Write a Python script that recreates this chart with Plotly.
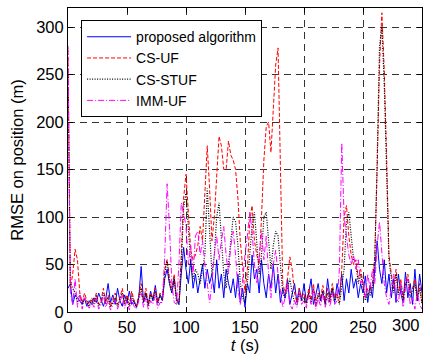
import plotly.graph_objects as go

t = list(range(0, 301, 2))

proposed = [25, 30, 8, 18, 15, 12, 8, 14, 6, 12,
            8, 15, 10, 20, 12, 6, 14, 30, 10, 18,
            8, 25, 12, 6, 18, 10, 22, 8, 12, 5,
            15, 48, 10, 20, 8, 22, 12, 28, 10, 18,
            12, 35, 45, 30, 20, 35, 15, 8, 40, 68,
            45, 30, 55, 25, 40, 20, 35, 50, 25, 45,
            30, 40, 20, 55, 25, 40, 15, 45, 30, 20,
            35, 15, 40, 10, 25, 5, 30, 20, 60, 35,
            45, 20, 55, 30, 15, 40, 25, 50, 20, 40,
            10, 25, 15, 35, 8, 20, 30, 10, 25, 12,
            30, 10, 20, 35, 8, 18, 30, 12, 22, 8,
            35, 15, 25, 10, 30, 18, 40, 12, 35, 20,
            45, 25, 35, 15, 30, 20, 38, 10, 28, 15,
            50, 75, 45, 30, 55, 20, 40, 15, 35, 10,
            40, 20, 10, 42, 15, 30, 8, 45, 12, 40,
            20]

cs_uf = [275, 25, 40, 66, 55, 20, 10, 20, 12, 8,
         15, 10, 20, 8, 12, 25, 10, 18, 6, 12,
         20, 8, 15, 25, 10, 18, 8, 22, 12, 6,
         18, 30, 12, 25, 8, 20, 15, 25, 10, 20,
         15, 45, 55, 35, 25, 40, 12, 10, 60, 120,
         145, 110, 65, 55, 60, 70, 90, 75, 130, 175,
         130, 75, 100, 150, 185, 175, 150, 150, 180, 165,
         160, 150, 120, 75, 45, 20, 45, 95, 112, 75,
         60, 50, 100, 160, 195, 200, 168, 210, 260, 278,
         150, 30, 20, 35, 58, 45, 20, 10, 25, 15,
         20, 10, 25, 12, 30, 8, 20, 15, 28, 10,
         25, 12, 30, 15, 20, 10, 45, 100, 112, 80,
         60, 50, 55, 35, 45, 30, 15, 25, 20, 30,
         60, 150, 260, 315, 255, 165, 60, 40, 25, 45,
         20, 35, 15, 30, 40, 20, 25, 35, 15, 30,
         10]

cs_stuf = [250, 30, 25, 20, 10, 18, 8, 15, 10, 6,
           12, 8, 18, 6, 10, 20, 8, 15, 5, 10,
           15, 6, 12, 20, 8, 15, 6, 18, 10, 5,
           15, 25, 10, 20, 6, 18, 12, 22, 8, 18,
           12, 40, 55, 30, 20, 35, 10, 8, 50, 110,
           125, 90, 50, 35, 45, 40, 30, 45, 60, 130,
           90, 40, 60, 100, 115, 80, 40, 25, 50, 80,
           100, 95, 70, 30, 15, 10, 30, 60, 90, 105,
           70, 40, 60, 100, 105, 70, 45, 70, 85, 80,
           50, 20, 15, 25, 35, 20, 10, 8, 20, 12,
           15, 8, 20, 10, 25, 6, 18, 12, 22, 8,
           20, 10, 25, 12, 18, 8, 30, 45, 95, 105,
           80, 55, 50, 30, 40, 25, 12, 20, 18, 25,
           55, 160, 280, 300, 240, 150, 55, 35, 20, 40,
           18, 30, 12, 28, 35, 15, 22, 30, 12, 25,
           8]

imm_uf = [280, 20, 8, 35, 5, 20, 3, 15, 8, 4,
          10, 5, 15, 3, 8, 18, 5, 12, 2, 8,
          12, 3, 10, 18, 4, 12, 2, 15, 6, 3,
          12, 20, 5, 15, 3, 12, 8, 18, 4, 10,
          10, 60, 135, 90, 30, 10, 8, 50, 115, 105,
          90, 50, 70, 40, 80, 85, 60, 75, 50, 30,
          10, 30, 60, 80, 55, 75, 90, 60, 40, 70,
          85, 60, 25, 8, 35, 60, 80, 105, 85, 50,
          30, 60, 85, 55, 80, 40, 15, 50, 65, 40,
          20, 5, 15, 30, 8, 3, 12, 5, 20, 8,
          12, 4, 18, 8, 25, 3, 15, 6, 20, 5,
          15, 6, 20, 8, 12, 45, 178, 100, 80, 60,
          50, 60, 45, 55, 30, 35, 15, 40, 25, 45,
          30, 70, 95, 60, 30, 15, 8, 25, 40, 15,
          10, 30, 5, 25, 35, 8, 15, 3, 20, 8,
          3]

x_ticks = [0, 50, 100, 150, 200, 250, 300]
x_ticktext = ["0", "50", "100", "150", "200", "250", ""]
y_ticks = [0, 50, 100, 150, 200, 250, 300]

FONT = "Arial, Liberation Sans, sans-serif"

fig = go.Figure()
fig.add_trace(go.Scatter(x=t, y=proposed, mode="lines", name="proposed algorithm",
                         line=dict(color="#0000FF", width=1)))
fig.add_trace(go.Scatter(x=t, y=cs_uf, mode="lines", name="CS-UF",
                         line=dict(color="#FF0000", width=1, dash="4px,2px")))
fig.add_trace(go.Scatter(x=t, y=cs_stuf, mode="lines", name="CS-STUF",
                         line=dict(color="#000000", width=1.2, dash="1px,1.5px")))
fig.add_trace(go.Scatter(x=t, y=imm_uf, mode="lines", name="IMM-UF",
                         line=dict(color="#FF00FF", width=1, dash="6px,2px,1px,2px")))

axis_common = dict(
    showline=True, linecolor="black", linewidth=1, mirror="ticks",
    ticks="inside", ticklen=5, tickcolor="black",
    showgrid=True, gridcolor="rgba(0,0,0,0.8)", gridwidth=1, griddash="7px,5px",
    zeroline=False, tickfont=dict(family=FONT, size=16.5, color="black"),
)

fig.update_xaxes(range=[0, 300], tickvals=x_ticks, ticktext=x_ticktext,
                 title=dict(text="<i>t</i> (s)", font=dict(family=FONT, size=16.5, color="black"),
                            standoff=4),
                 **axis_common)
fig.update_yaxes(range=[0, 320], tickvals=y_ticks,
                 title=dict(text="RMSE on position (m)", font=dict(family=FONT, size=16.5, color="black"),
                            standoff=8),
                 **axis_common)

fig.add_annotation(x=x_ticks[-1], y=0, xref="x", yref="paper", text=str(x_ticks[-1]),
                   showarrow=False, xanchor="right", yanchor="top", yshift=-2,
                   font=dict(family=FONT, size=16.5, color="black"))

fig.update_layout(
    width=431, height=359,
    margin=dict(l=68, r=9, t=8, b=47),
    paper_bgcolor="white", plot_bgcolor="white",
    font=dict(family=FONT, color="black"),
    legend=dict(x=0.037, y=0.96, xanchor="left", yanchor="top",
                bgcolor="white", bordercolor="black", borderwidth=1,
                font=dict(family=FONT, size=14, color="black"),
                tracegroupgap=0, itemwidth=44),
    showlegend=True,
)

fig.write_html("out.html")
